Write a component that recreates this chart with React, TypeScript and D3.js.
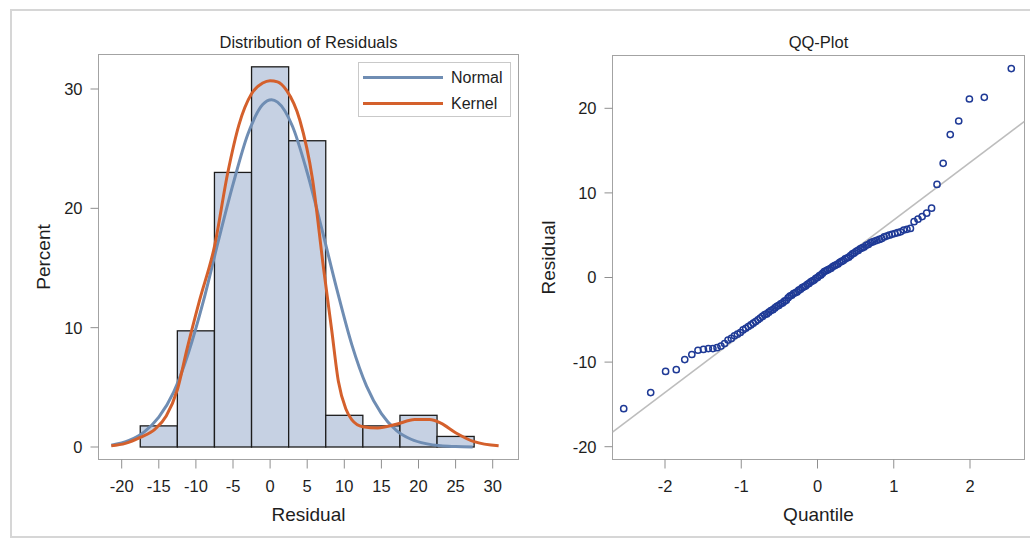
import React from 'react';
import * as d3 from 'd3';

// ---------- data ----------
const residuals = [
  -15.5, -13.6, -11.1, -10.9, -9.7, -9.1, -8.6, -8.5, -8.4, -8.4,
  -8.3, -8.1, -7.8, -7.4, -7.2, -6.9, -6.7, -6.5, -6.2, -6.0,
  -5.8, -5.6, -5.4, -5.2, -5.0, -4.8, -4.6, -4.4, -4.3, -4.1,
  -3.9, -3.8, -3.6, -3.4, -3.3, -3.1, -3.0, -2.8, -2.7, -2.4,
  -2.2, -2.1, -1.9, -1.8, -1.7, -1.5, -1.4, -1.2, -1.1, -1.0,
  -0.8, -0.7, -0.5, -0.4, -0.3, -0.1, 0.0, 0.2, 0.3, 0.5,
  0.7, 0.8, 0.9, 1.0, 1.1, 1.3, 1.4, 1.5, 1.6, 1.8,
  1.9, 2.0, 2.2, 2.3, 2.4, 2.6, 2.8, 2.9, 3.1, 3.2,
  3.4, 3.5, 3.6, 3.8, 3.9, 4.1, 4.2, 4.3, 4.4, 4.5,
  4.6, 4.8, 4.9, 5.0, 5.1, 5.2, 5.3, 5.4, 5.6, 5.7,
  5.8, 6.6, 6.9, 7.2, 7.6, 8.2, 11.0, 13.5, 16.9, 18.5,
  21.1, 21.3, 24.7,
];

const binEdges = [-17.5, -12.5, -7.5, -2.5, 2.5, 7.5, 12.5, 17.5, 22.5, 27.5];
const histXTicks = [-20, -15, -10, -5, 0, 5, 10, 15, 20, 25, 30];
const histYTicks = [0, 10, 20, 30];

const normalX = [-21.4, -19, -17, -15, -13, -11, -9, -7, -5, -3, -1, 0.2, 1, 3, 5, 7, 9, 11, 13, 15, 17, 19, 21, 23, 25, 27.3];
const normalY = [0.15, 0.55, 1.25, 2.5, 4.6, 7.9, 12.2, 17.2, 22.0, 26.2, 28.7, 29.1, 28.9, 26.9, 23.0, 18.2, 13.2, 8.6, 5.1, 2.8, 1.4, 0.65, 0.28, 0.1, 0.04, 0];

const kernelX = [-21.4, -19.5, -17.5, -15.5, -14, -12.5, -11.2, -9.5, -7.5, -5.7, -4.2, -2.5, -1, 0, 1, 2.2, 4.0, 5.7, 7.2, 8.3, 9.2, 10.2, 11, 12.5, 14.5, 17, 19.5, 21.5, 23, 25, 27.5, 30.8];
const kernelY = [0.1, 0.3, 0.8, 1.5, 2.6, 4.8, 8.2, 12.3, 16.8, 23, 27, 29.6, 30.5, 30.7, 30.6, 29.9, 27.4, 22.5, 15, 9.8, 5.5, 3.2, 2.3, 1.7, 1.6, 1.9, 2.3, 2.3, 2.0, 1.2, 0.45, 0.1];

const legendLabels = ['Normal', 'Kernel'];

const qqXTicks = [-2, -1, 0, 1, 2];
const qqYTicks = [-20, -10, 0, 10, 20];
const refMean = 0;
const refStd = 6.8;

// ---------- helpers ----------
function probit(p: number): number {
  const a = [-3.969683028665376e1, 2.209460984245205e2, -2.759285104469687e2, 1.38357751867269e2, -3.066479806614716e1, 2.506628277459239];
  const b = [-5.447609879822406e1, 1.615858368580409e2, -1.556989798598866e2, 6.680131188771972e1, -1.328068155288572e1];
  const c = [-7.784894002430293e-3, -3.223964580411365e-1, -2.400758277161838, -2.549732539343734, 4.374664141464968, 2.938163982698783];
  const d = [7.784695709041462e-3, 3.224671290700398e-1, 2.445134137142996, 3.754408661907416];
  const pl = 0.02425;
  if (p < pl) {
    const q = Math.sqrt(-2 * Math.log(p));
    return (((((c[0] * q + c[1]) * q + c[2]) * q + c[3]) * q + c[4]) * q + c[5]) / ((((d[0] * q + d[1]) * q + d[2]) * q + d[3]) * q + 1);
  }
  if (p <= 1 - pl) {
    const q = p - 0.5, r = q * q;
    return ((((((a[0] * r + a[1]) * r + a[2]) * r + a[3]) * r + a[4]) * r + a[5]) * q) / (((((b[0] * r + b[1]) * r + b[2]) * r + b[3]) * r + b[4]) * r + 1);
  }
  const q = Math.sqrt(-2 * Math.log(1 - p));
  return -(((((c[0] * q + c[1]) * q + c[2]) * q + c[3]) * q + c[4]) * q + c[5]) / ((((d[0] * q + d[1]) * q + d[2]) * q + d[3]) * q + 1);
}

const FONT = 'Liberation Sans, Arial, Helvetica, sans-serif';
const TICK_COLOR = '#8f8f8f';
const FRAME_COLOR = '#a3a3a3';
const TEXT_COLOR = '#1e1e1e';

export default function App() {
  // ---------- histogram panel ----------
  const hf = { x0: 98.5, y0: 54.5, x1: 518.5, y1: 459.5 };
  const hx = d3.scaleLinear().domain([-20, 30]).range([121.7, 492.7]);
  const hy = d3.scaleLinear().domain([0, 30]).range([447, 89]);
  const n = residuals.length;
  const bins = d3
    .bin<number, number>()
    .domain([binEdges[0], binEdges[binEdges.length - 1]])
    .thresholds(binEdges.slice(1, -1))(residuals);

  const curveLine = d3
    .line<[number, number]>()
    .x((d) => hx(d[0]))
    .y((d) => hy(d[1]))
    .curve(d3.curveMonotoneX);
  const normalPts = normalX.map((x, i) => [x, normalY[i]] as [number, number]);
  const kernelPts = kernelX.map((x, i) => [x, kernelY[i]] as [number, number]);
  const normalColor = '#6f8db3';
  const kernelColor = '#d4602c';

  // ---------- QQ panel ----------
  const qf = { x0: 612.5, y0: 55.5, x1: 1024.5, y1: 459.5 };
  const qx = d3.scaleLinear().domain([-2, 2]).range([665, 970]);
  const qy = d3.scaleLinear().domain([-20, 20]).range([446.7, 108.3]);
  const sorted = residuals.slice().sort((a, b) => a - b);
  const qqPts = sorted.map((r, i) => ({ q: probit((i + 1 - 0.375) / (n + 0.25)), r }));
  const zL = qx.invert(qf.x0);
  const zR = qx.invert(qf.x1);

  return (
    <svg
      width={1030}
      height={538}
      style={{ position: 'absolute', left: 0, top: 0, background: '#fff' }}
      fontFamily={FONT}
    >
      <defs>
        <clipPath id="histClip">
          <rect x={hf.x0} y={hf.y0} width={hf.x1 - hf.x0} height={hf.y1 - hf.y0} />
        </clipPath>
        <clipPath id="qqClip">
          <rect x={qf.x0} y={qf.y0} width={qf.x1 - qf.x0} height={qf.y1 - qf.y0} />
        </clipPath>
      </defs>

      {/* outer frame */}
      <rect x={11} y={10} width={1040} height={527} fill="none" stroke="#d6d6d6" strokeWidth={2} />

      {/* ===== Histogram ===== */}
      <text x={(hf.x0 + hf.x1) / 2} y={48} textAnchor="middle" fontSize={16.5} fill={TEXT_COLOR}>
        Distribution of Residuals
      </text>
      <rect x={hf.x0} y={hf.y0} width={hf.x1 - hf.x0} height={hf.y1 - hf.y0} fill="#fff" stroke={FRAME_COLOR} strokeWidth={1} />

      <g clipPath="url(#histClip)">
        {bins.map((b, i) => {
          const pct = (b.length / n) * 100;
          return (
            <rect
              key={i}
              x={hx(b.x0 as number)}
              y={hy(pct)}
              width={hx(b.x1 as number) - hx(b.x0 as number)}
              height={hy(0) - hy(pct)}
              fill="#c6d1e3"
              stroke="#1c1c1c"
              strokeWidth={1.3}
            />
          );
        })}
        <path d={curveLine(normalPts) || ''} fill="none" stroke={normalColor} strokeWidth={3} strokeLinejoin="round" />
        <path d={curveLine(kernelPts) || ''} fill="none" stroke={kernelColor} strokeWidth={3} strokeLinejoin="round" />
      </g>

      {/* hist y axis */}
      {histYTicks.map((t) => (
        <g key={'hy' + t}>
          <line x1={hf.x0 - 8} x2={hf.x0} y1={hy(t)} y2={hy(t)} stroke={TICK_COLOR} />
          <text x={hf.x0 - 16} y={hy(t)} dy="0.36em" textAnchor="end" fontSize={16.5} fill={TEXT_COLOR}>
            {t}
          </text>
        </g>
      ))}
      <text
        transform={`translate(50, ${(hf.y0 + hf.y1) / 2}) rotate(-90)`}
        textAnchor="middle"
        fontSize={19}
        fill={TEXT_COLOR}
      >
        Percent
      </text>

      {/* hist x axis */}
      {histXTicks.map((t) => (
        <g key={'hx' + t}>
          <line x1={hx(t)} x2={hx(t)} y1={hf.y1} y2={hf.y1 + 9} stroke={TICK_COLOR} />
          <text x={hx(t)} y={491.5} textAnchor="middle" fontSize={16.5} fill={TEXT_COLOR}>
            {t}
          </text>
        </g>
      ))}
      <text x={(hf.x0 + hf.x1) / 2} y={520.5} textAnchor="middle" fontSize={19} fill={TEXT_COLOR}>
        Residual
      </text>

      {/* legend */}
      <rect x={358.5} y={62.5} width={152} height={54} fill="#fff" stroke="#c9c9c9" strokeWidth={1} />
      {legendLabels.map((lab, i) => (
        <g key={lab}>
          <line
            x1={363}
            x2={443}
            y1={77.5 + i * 26}
            y2={77.5 + i * 26}
            stroke={i === 0 ? normalColor : kernelColor}
            strokeWidth={3}
          />
          <text x={451} y={77.5 + i * 26} dy="0.36em" fontSize={16} fill={TEXT_COLOR}>
            {lab}
          </text>
        </g>
      ))}

      {/* ===== QQ plot ===== */}
      <text x={(qf.x0 + qf.x1) / 2} y={48} textAnchor="middle" fontSize={16.5} fill={TEXT_COLOR}>
        QQ-Plot
      </text>
      <rect x={qf.x0} y={qf.y0} width={qf.x1 - qf.x0} height={qf.y1 - qf.y0} fill="#fff" stroke={FRAME_COLOR} strokeWidth={1} />
      <g clipPath="url(#qqClip)">
        <line
          x1={qx(zL)}
          x2={qx(zR)}
          y1={qy(refMean + refStd * zL)}
          y2={qy(refMean + refStd * zR)}
          stroke="#bdbdbd"
          strokeWidth={1.6}
        />
        {qqPts.map((p, i) => (
          <circle key={i} cx={qx(p.q)} cy={qy(p.r)} r={3.1} fill="none" stroke="#1f3a96" strokeWidth={1.5} />
        ))}
      </g>

      {qqYTicks.map((t) => (
        <g key={'qy' + t}>
          <line x1={qf.x0 - 8} x2={qf.x0} y1={qy(t)} y2={qy(t)} stroke={TICK_COLOR} />
          <text x={qf.x0 - 16} y={qy(t)} dy="0.36em" textAnchor="end" fontSize={16.5} fill={TEXT_COLOR}>
            {t}
          </text>
        </g>
      ))}
      <text
        transform={`translate(555, ${(qf.y0 + qf.y1) / 2}) rotate(-90)`}
        textAnchor="middle"
        fontSize={19}
        fill={TEXT_COLOR}
      >
        Residual
      </text>

      {qqXTicks.map((t) => (
        <g key={'qx' + t}>
          <line x1={qx(t)} x2={qx(t)} y1={qf.y1} y2={qf.y1 + 9} stroke={TICK_COLOR} />
          <text x={qx(t)} y={491.5} textAnchor="middle" fontSize={16.5} fill={TEXT_COLOR}>
            {t}
          </text>
        </g>
      ))}
      <text x={(qf.x0 + qf.x1) / 2} y={520.5} textAnchor="middle" fontSize={19} fill={TEXT_COLOR}>
        Quantile
      </text>
    </svg>
  );
}
